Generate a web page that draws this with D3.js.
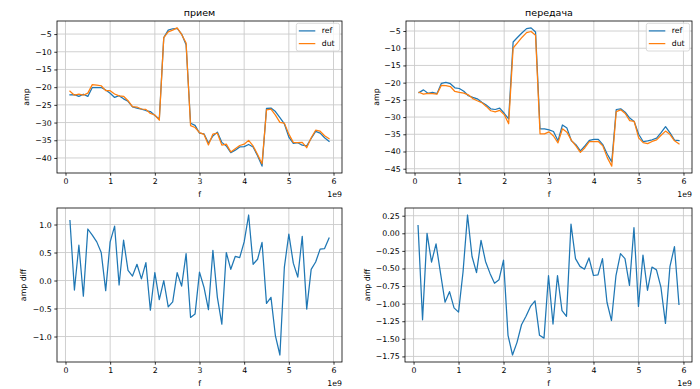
<!DOCTYPE html>
<html>
<head>
<meta charset="utf-8">
<script src="https://cdn.jsdelivr.net/npm/d3@7"></script>
<style>
  body { margin: 0; background: #fff; }
  svg { display: block; font-family: "DejaVu Sans", sans-serif; }
</style>
</head>
<body>
<div id="chart"></div>
<script>
// ---------- data (f in units of 1e9 Hz) ----------
const freq = [0.1, 0.2, 0.3, 0.4, 0.5, 0.6, 0.7, 0.8, 0.9, 1.0,
  1.1, 1.2, 1.3, 1.4, 1.5, 1.6, 1.7, 1.8, 1.9, 2.0,
  2.1, 2.2, 2.3, 2.4, 2.5, 2.6, 2.7, 2.8, 2.9, 3.0,
  3.1, 3.2, 3.3, 3.4, 3.5, 3.6, 3.7, 3.8, 3.9, 4.0,
  4.1, 4.2, 4.3, 4.4, 4.5, 4.6, 4.7, 4.8, 4.9, 5.0,
  5.1, 5.2, 5.3, 5.4, 5.5, 5.6, 5.7, 5.8, 5.9];

// "прием"
const rxRef = [-22.2, -22.1, -22.6, -22.0, -22.6, -20.1, -20.1, -20.1, -20.8, -21.7,
  -22.9, -22.4, -23.3, -24.0, -25.6, -25.9, -26.2, -26.6, -26.9, -28.0,
  -29.0, -6.0, -3.9, -3.5, -3.4, -5.0, -8.0, -30.2, -30.8, -33.0,
  -33.2, -35.8, -33.8, -32.7, -35.6, -36.6, -38.5, -37.8, -36.9, -36.8,
  -36.2, -36.9, -39.4, -42.3, -26.0, -25.9, -26.9, -28.6, -30.4, -34.1,
  -35.9, -35.7, -36.4, -36.6, -34.5, -32.5, -33.0, -34.3, -35.3];
const rxDut = [-21.13, -22.27, -21.97, -22.28, -21.68, -19.29, -19.41, -19.60, -20.98, -21.01,
  -21.93, -22.48, -22.58, -23.82, -25.52, -25.61, -26.17, -26.28, -27.43, -27.86,
  -29.34, -6.00, -4.37, -3.88, -3.26, -5.10, -7.52, -30.86, -31.40, -32.85,
  -33.32, -36.32, -33.26, -33.00, -36.38, -36.10, -38.30, -37.37, -36.49, -36.11,
  -35.03, -36.61, -39.02, -41.62, -26.41, -26.20, -27.89, -29.93, -30.16, -33.27,
  -35.59, -35.64, -35.61, -37.11, -34.30, -32.17, -32.44, -33.73, -34.54];
const rxDiff = [1.07, -0.17, 0.63, -0.28, 0.92, 0.81, 0.69, 0.50, -0.18, 0.69,
  0.97, -0.08, 0.72, 0.18, 0.08, 0.29, 0.03, 0.32, -0.53, 0.14,
  -0.34, 0.00, -0.47, -0.38, 0.14, -0.10, 0.48, -0.66, -0.60, 0.15,
  -0.12, -0.52, 0.54, -0.30, -0.78, 0.50, 0.20, 0.43, 0.41, 0.69,
  1.17, 0.29, 0.38, 0.68, -0.41, -0.30, -0.99, -1.33, 0.24, 0.83,
  0.31, 0.06, 0.79, -0.51, 0.20, 0.33, 0.56, 0.57, 0.76];

// "передача"
const txRef = [-22.9, -22.1, -23.1, -22.8, -23.2, -20.2, -19.9, -20.3, -21.5, -21.7,
  -22.5, -23.8, -24.3, -24.7, -25.7, -26.5, -27.6, -27.8, -27.4, -28.9,
  -30.5, -8.2, -6.8, -5.5, -4.3, -4.1, -5.3, -33.4, -33.4, -33.7,
  -34.2, -36.9, -32.3, -33.2, -36.9, -38.0, -39.8, -38.4, -36.8, -36.5,
  -36.5, -38.0, -40.8, -43.0, -27.8, -27.6, -28.6, -30.3, -31.3, -35.0,
  -37.1, -36.9, -36.6, -36.1, -34.5, -32.8, -34.6, -36.7, -36.8];
const txDut = [-22.79, -23.33, -23.10, -23.21, -23.35, -20.77, -20.88, -21.13, -22.56, -22.82,
  -23.05, -23.54, -24.63, -25.26, -25.80, -26.90, -28.17, -28.51, -28.06, -29.28,
  -31.95, -9.93, -8.35, -6.80, -5.48, -5.14, -6.26, -34.85, -34.89, -34.30,
  -35.49, -37.50, -33.40, -34.38, -36.77, -38.36, -40.27, -38.91, -37.15, -37.10,
  -37.09, -38.36, -41.78, -44.24, -28.40, -27.89, -28.96, -31.04, -31.22, -36.04,
  -37.41, -37.71, -37.08, -36.62, -35.27, -34.08, -35.07, -36.89, -37.81];
const txDiff = [0.11, -1.23, 0.00, -0.41, -0.15, -0.57, -0.98, -0.83, -1.06, -1.12,
  -0.55, 0.26, -0.33, -0.56, -0.10, -0.40, -0.57, -0.71, -0.66, -0.38,
  -1.45, -1.73, -1.55, -1.30, -1.18, -1.04, -0.96, -1.45, -1.49, -0.60,
  -1.29, -0.60, -1.10, -1.18, 0.13, -0.36, -0.47, -0.51, -0.35, -0.60,
  -0.59, -0.36, -0.98, -1.24, -0.60, -0.29, -0.36, -0.74, 0.08, -1.04,
  -0.31, -0.81, -0.48, -0.52, -0.77, -1.28, -0.47, -0.19, -1.01];

const xTicks = [0, 1, 2, 3, 4, 5, 6];
const ampTicksRx = [-40, -35, -30, -25, -20, -15, -10, -5];
const ampTicksTx = [-45, -40, -35, -30, -25, -20, -15, -10, -5];
const diffTicksRx = [-1.0, -0.5, 0.0, 0.5, 1.0];
const diffTicksTx = [-1.75, -1.5, -1.25, -1.0, -0.75, -0.5, -0.25, 0.0, 0.25];

// ---------- layout ----------
const W = 700, H = 389;
const BLUE = "#1f77b4", ORANGE = "#ff7f0e";
const FS = 7.8;      // tick / label font
const TS = 9.5;      // title font
const TICK = 2.7;

const svg = d3.select("#chart").append("svg")
  .attr("width", W).attr("height", H)
  .attr("viewBox", `0 0 ${W} ${H}`);

const panels = [
  { box: [57, 342, 21, 173], title: "прием", ylabel: "amp", ylabOff: 31,
    yTicks: ampTicksRx, fmt: d3.format("d"),
    series: [{ name: "ref", values: rxRef, color: BLUE }, { name: "dut", values: rxDut, color: ORANGE }],
    legend: true },
  { box: [406, 692, 21, 173], title: "передача", ylabel: "amp", ylabOff: 30,
    yTicks: ampTicksTx, fmt: d3.format("d"),
    series: [{ name: "ref", values: txRef, color: BLUE }, { name: "dut", values: txDut, color: ORANGE }],
    legend: true },
  { box: [57, 342, 208, 362], ylabel: "amp diff", ylabOff: 34,
    yTicks: diffTicksRx, fmt: d3.format(".1f"),
    series: [{ name: "diff", values: rxDiff, color: BLUE }] },
  { box: [405, 692, 208, 362], ylabel: "amp diff", ylabOff: 38,
    yTicks: diffTicksTx, fmt: d3.format(".2f"),
    series: [{ name: "diff", values: txDiff, color: BLUE }] }
];

// matplotlib-like 5% margins
function padded(ext) {
  const d = (ext[1] - ext[0]) * 0.05;
  return [ext[0] - d, ext[1] + d];
}

panels.forEach((p, i) => {
  const [left, right, top, bottom] = p.box;
  const g = svg.append("g");

  const x = d3.scaleLinear().domain(padded(d3.extent(freq))).range([left, right]);
  const allY = p.series.flatMap(s => s.values);
  const y = d3.scaleLinear().domain(padded(d3.extent(allY))).range([bottom, top]);

  // grid
  g.append("g").selectAll("line").data(xTicks).join("line")
    .attr("x1", d => x(d)).attr("x2", d => x(d))
    .attr("y1", top).attr("y2", bottom)
    .attr("stroke", "#cbcbcb").attr("stroke-width", 0.9);
  g.append("g").selectAll("line").data(p.yTicks).join("line")
    .attr("x1", left).attr("x2", right)
    .attr("y1", d => y(d)).attr("y2", d => y(d))
    .attr("stroke", "#cbcbcb").attr("stroke-width", 0.9);

  // clip
  svg.append("clipPath").attr("id", "clip" + i)
    .append("rect").attr("x", left).attr("y", top)
    .attr("width", right - left).attr("height", bottom - top);

  const line = d3.line().x((d, j) => x(freq[j])).y(d => y(d));
  g.append("g").attr("clip-path", `url(#clip${i})`)
    .selectAll("path").data(p.series).join("path")
    .attr("d", s => line(s.values))
    .attr("fill", "none")
    .attr("stroke", s => s.color)
    .attr("stroke-width", 1.25)
    .attr("stroke-linejoin", "round")
    .attr("stroke-linecap", "square");

  // axes
  const xAxis = g.append("g").attr("transform", `translate(0,${bottom})`)
    .call(d3.axisBottom(x).tickValues(xTicks).tickFormat(d3.format("d"))
      .tickSize(TICK).tickPadding(TICK));
  const yAxis = g.append("g").attr("transform", `translate(${left},0)`)
    .call(d3.axisLeft(y).tickValues(p.yTicks).tickFormat(p.fmt)
      .tickSize(TICK).tickPadding(TICK));
  [xAxis, yAxis].forEach(a => {
    a.select(".domain").remove();
    a.selectAll(".tick line").attr("stroke", "#000").attr("stroke-width", 0.8);
    a.selectAll(".tick text").attr("fill", "#000")
      .style("font-size", FS + "px").style("font-family", "DejaVu Sans, sans-serif");
  });

  // spines
  g.append("rect")
    .attr("x", left).attr("y", top)
    .attr("width", right - left).attr("height", bottom - top)
    .attr("fill", "none").attr("stroke", "#000").attr("stroke-width", 0.8);

  // labels
  g.append("text")
    .attr("x", (left + right) / 2).attr("y", bottom + 23.5)
    .attr("text-anchor", "middle").style("font-size", FS + "px")
    .text("f");
  g.append("text")
    .attr("x", right).attr("y", bottom + 23.5)
    .attr("text-anchor", "end").style("font-size", FS + "px")
    .text("1e9");
  g.append("text")
    .attr("transform", `translate(${left - p.ylabOff},${(top + bottom) / 2}) rotate(-90)`)
    .attr("text-anchor", "middle").attr("dominant-baseline", "central")
    .style("font-size", FS + "px")
    .text(p.ylabel);
  if (p.title) {
    g.append("text")
      .attr("x", (left + right) / 2).attr("y", top - 4.8)
      .attr("text-anchor", "middle").style("font-size", TS + "px")
      .text(p.title);
  }

  // legend
  if (p.legend) {
    const lg = g.append("g").attr("transform", `translate(${right - 45.7},${top + 2.3})`);
    lg.append("rect")
      .attr("width", 43.3).attr("height", 27.7).attr("rx", 2)
      .attr("fill", "#fff").attr("fill-opacity", 0.8)
      .attr("stroke", "#d0d0d0").attr("stroke-width", 0.8);
    p.series.forEach((s, k) => {
      const yy = 7.6 + k * 12.7;
      lg.append("line")
        .attr("x1", 2.5).attr("x2", 19).attr("y1", yy).attr("y2", yy)
        .attr("stroke", s.color).attr("stroke-width", 1.25);
      lg.append("text")
        .attr("x", 25.4).attr("y", yy)
        .attr("dominant-baseline", "central")
        .style("font-size", FS + "px")
        .text(s.name);
    });
  }
});
</script>
</body>
</html>
